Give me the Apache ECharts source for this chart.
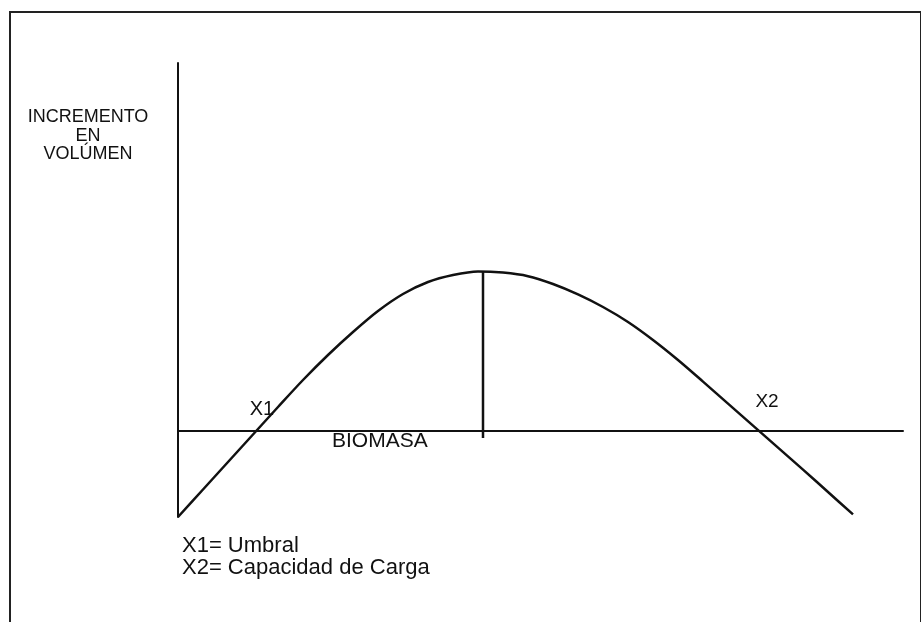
<!DOCTYPE html>
<html>
<head>
<meta charset="utf-8">
<script src="https://cdn.jsdelivr.net/npm/echarts@6/dist/echarts.min.js"></script>
<style>
  html, body { margin: 0; padding: 0; background: #ffffff; }
  #chart { width: 921px; height: 622px; }
</style>
</head>
<body>
<div id="chart"></div>
<script>
// Biomass (x) and volume increment (y), arbitrary units
const biomasa = [0, 5, 10, 15, 20, 25, 30, 35, 40, 45, 50, 55, 60, 65,
                 70, 75, 80, 85, 90, 95, 100, 105, 110, 115, 120, 125, 130, 135];
const incremento = [-43, -29.25, -15.5, -1.75, 12, 25.5, 38, 49.5, 60, 68.5, 74.5, 78, 79.8, 79.2,
                    77.4, 73.5, 68.3, 62, 54.5, 45.5, 35.5, 24.7, 13.7, 2.7, -8.3, -19.3, -30.5, -41.7];

// Threshold and carrying capacity (where the curve crosses zero)
const umbralX = 15.6;
const capacidadX = 116;
// Position of the maximum increment
const maximoX = 61;
const maximoY = 79.9;

const xRange = [0, 145];
const yRange = [-43, 184];

const yTitle = 'INCREMENTO\nEN\nVOLÚMEN';
const xTitle = 'BIOMASA';
const notas = 'X1= Umbral\nX2= Capacidad de Carga';

const FONT = '"Liberation Sans", Arial, sans-serif';
const INK = '#111111';

const curve = biomasa.map((x, i) => [x, incremento[i]]);

const chart = echarts.init(document.getElementById('chart'), null, { renderer: 'canvas' });

chart.setOption({
  backgroundColor: '#ffffff',
  animation: false,
  grid: { left: 178, top: 63, width: 725, height: 454 },
  xAxis: {
    type: 'value',
    min: xRange[0],
    max: xRange[1],
    axisLine: { show: true, onZero: true, lineStyle: { color: INK, width: 2 } },
    axisTick: { show: false },
    axisLabel: { show: false },
    splitLine: { show: false }
  },
  yAxis: {
    type: 'value',
    min: yRange[0],
    max: yRange[1],
    axisLine: { show: true, onZero: false, lineStyle: { color: INK, width: 2 } },
    axisTick: { show: false },
    axisLabel: { show: false },
    splitLine: { show: false }
  },
  series: [
    {
      type: 'line',
      data: curve,
      smooth: 0.3,
      showSymbol: false,
      lineStyle: { color: INK, width: 2.5 },
      markPoint: {
        symbol: 'circle',
        symbolSize: 0,
        label: {
          show: true,
          position: 'inside',
          color: INK,
          fontFamily: FONT,
          fontSize: 20
        },
        data: [
          { coord: [umbralX, 0], value: 'X1', label: { formatter: 'X1', offset: [6, -22] } },
          { coord: [capacidadX, 0], value: 'X2', label: { formatter: 'X2', offset: [9, -29], fontSize: 19 } }
        ]
      }
    },
    {
      type: 'line',
      data: [[maximoX, maximoY], [maximoX, -3.5]],
      showSymbol: false,
      lineStyle: { color: INK, width: 2.5 }
    }
  ],
  graphic: [
    {
      type: 'rect',
      shape: { x: 10, y: 12, width: 911, height: 640 },
      style: { fill: 'none', stroke: '#222222', lineWidth: 2 },
      silent: true
    },
    {
      type: 'text',
      x: 88,
      y: 108,
      style: {
        text: yTitle,
        fill: INK,
        font: '18px ' + FONT,
        align: 'center',
        verticalAlign: 'top',
        lineHeight: 18.5
      }
    },
    {
      type: 'text',
      x: 332,
      y: 431,
      style: {
        text: xTitle,
        fill: INK,
        font: '21px ' + FONT,
        verticalAlign: 'top'
      }
    },
    {
      type: 'text',
      x: 182,
      y: 535,
      style: {
        text: notas,
        fill: INK,
        font: '22px ' + FONT,
        verticalAlign: 'top',
        lineHeight: 22
      }
    }
  ]
});
</script>
</body>
</html>
